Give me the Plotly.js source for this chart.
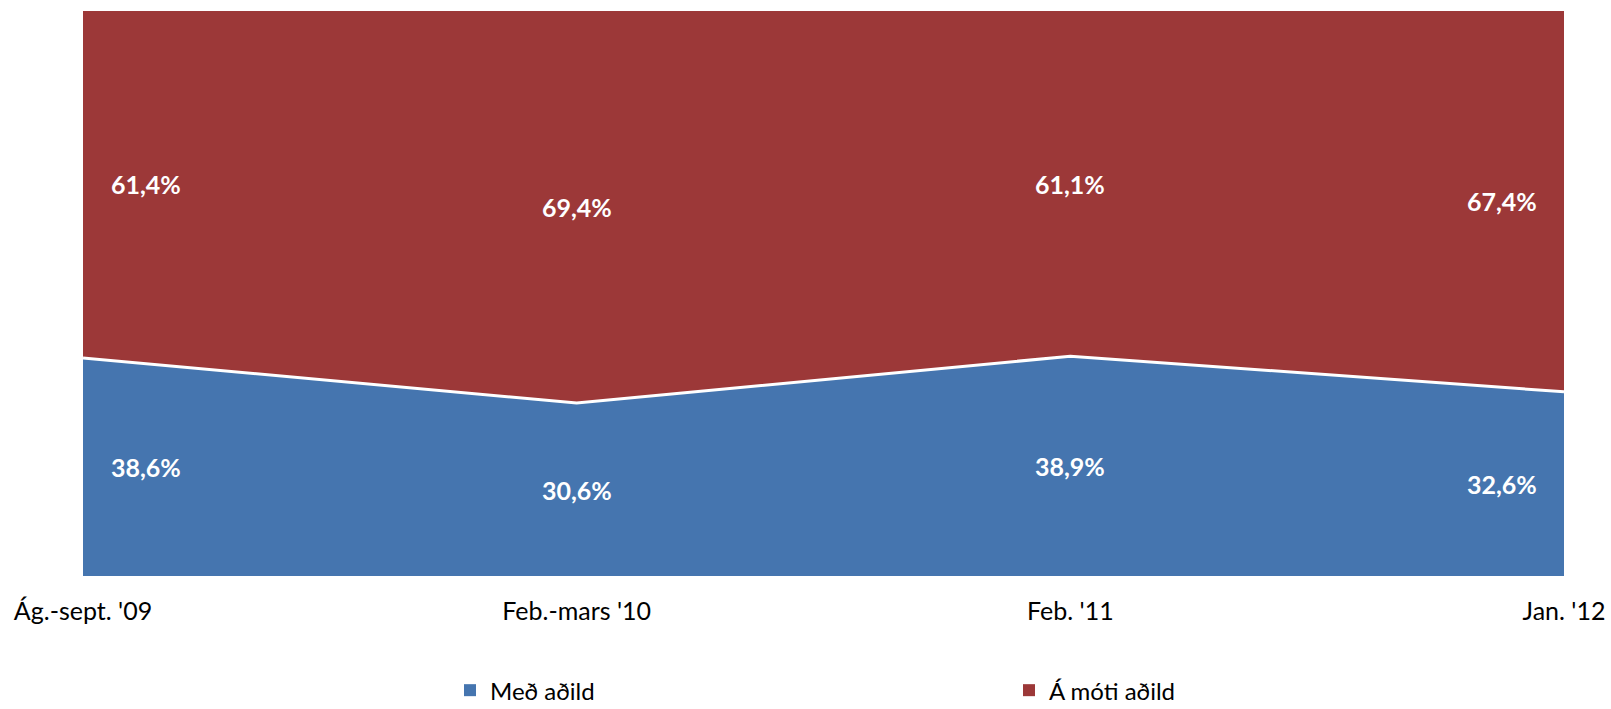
<!DOCTYPE html>
<html>
<head>
<meta charset="utf-8">
<script src="https://cdn.plot.ly/plotly-3.0.1.min.js"></script>
<style>html,body{margin:0;padding:0;background:#fff;}#chart{width:1611px;height:709px;}</style>
</head>
<body>
<div id="chart"></div>
<script>
const categories = ["Ág.-sept. '09", "Feb.-mars '10", "Feb. '11", "Jan. '12"];
const medAdild = [38.6, 30.6, 38.9, 32.6];
const motiAdild = [61.4, 69.4, 61.1, 67.4];
const seriesNames = ["Með aðild", "Á móti aðild"];
const labelsMed = ["38,6%", "30,6%", "38,9%", "32,6%"];
const labelsMoti = ["61,4%", "69,4%", "61,1%", "67,4%"];

const BLUE = "#4575AF";
const RED = "#9C3838";
const FONT = "Lato, 'Open Sans', sans-serif";

const traces = [
  {
    x: categories, y: medAdild, type: "scatter", mode: "lines",
    stackgroup: "one", fillcolor: BLUE,
    line: {color: "#ffffff", width: 3}, showlegend: false, hoverinfo: "skip"
  },
  {
    x: categories, y: motiAdild, type: "scatter", mode: "lines",
    stackgroup: "one", fillcolor: RED,
    line: {color: RED, width: 0}, showlegend: false, hoverinfo: "skip"
  },
  {
    x: [null], y: [null], type: "scatter", mode: "markers", name: seriesNames[0],
    marker: {symbol: "square", size: 12, color: BLUE}, legend: "legend"
  },
  {
    x: [null], y: [null], type: "scatter", mode: "markers", name: seriesNames[1],
    marker: {symbol: "square", size: 12, color: RED}, legend: "legend2"
  }
];

const annotations = [];
const n = categories.length;
for (let i = 0; i < n; i++) {
  const shift = i === 0 ? 63 : (i === n - 1 ? -62 : 0);
  annotations.push({
    x: i, y: medAdild[i] / 2, xref: "x", yref: "y", text: labelsMed[i],
    showarrow: false, xshift: shift,
    font: {family: FONT, size: 25, color: "#ffffff", weight: "bold"}
  });
  annotations.push({
    x: i, y: medAdild[i] + motiAdild[i] / 2, xref: "x", yref: "y", text: labelsMoti[i],
    showarrow: false, xshift: shift,
    font: {family: FONT, size: 25, color: "#ffffff", weight: "bold"}
  });
}

const legendCommon = {
  orientation: "h", yref: "container", y: 0.026, yanchor: "middle",
  xref: "container", xanchor: "left",
  font: {family: FONT, size: 24, color: "#000000"}, bgcolor: "rgba(0,0,0,0)", borderwidth: 0
};

const layout = {
  width: 1611, height: 709,
  margin: {l: 83, r: 47, t: 11, b: 133, pad: 0, autoexpand: false},
  paper_bgcolor: "#ffffff", plot_bgcolor: "#ffffff",
  showlegend: true,
  xaxis: {
    type: "category", range: [0, n - 1], showgrid: false, zeroline: false,
    showline: false, ticks: "", ticklabelstandoff: 18, automargin: false,
    tickfont: {family: FONT, size: 25, color: "#000000"}, fixedrange: true
  },
  yaxis: {
    range: [0, 100], showgrid: false, zeroline: false, showline: false,
    showticklabels: false, ticks: "", fixedrange: true, automargin: false
  },
  legend: Object.assign({}, legendCommon, {x: 450 / 1611}),
  legend2: Object.assign({}, legendCommon, {x: 1009 / 1611}),
  annotations: annotations
};

Plotly.newPlot("chart", traces, layout, {displayModeBar: false, staticPlot: true});
</script>
</body>
</html>
